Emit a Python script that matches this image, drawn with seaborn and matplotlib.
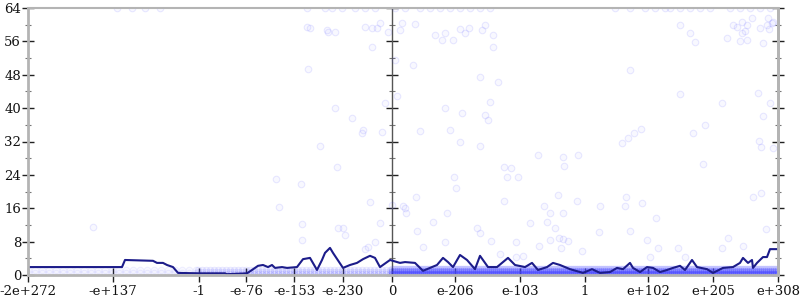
import numpy as np
import pandas as pd
import matplotlib
matplotlib.use("Agg")
import matplotlib.pyplot as plt
from matplotlib.ticker import MultipleLocator
import seaborn as sns

# ---- data -------------------------------------------------------------
tick_pos = [0, 85, 171, 218, 266, 315, 364, 427, 492, 557, 620, 685, 750]
tick_labels = ["-2e+272", "-e+137", "-1", "-e-76", "-e-153", "-e-230", "0",
               "e-206", "e-103", "1", "e+102", "e+205", "e+308"]

# moving average line
line_x = [0, 94, 97, 125, 129, 135, 139, 145, 150, 172, 197, 199, 219, 224, 230,
          235, 240, 244, 247, 254, 259, 269, 275, 282, 289, 294, 297, 302, 305,
          315, 322, 329, 335, 342, 347, 352, 362, 372, 377, 387, 395, 404, 409,
          415, 420, 425, 432, 439, 447, 452, 460, 469, 480, 487, 497, 504, 510,
          519, 525, 532, 542, 555, 564, 572, 582, 589, 595, 602, 605, 612, 619,
          625, 632, 639, 645, 652, 657, 664, 669, 679, 685, 695, 705, 712, 715,
          720, 724, 725, 729, 735, 739, 742, 750]
line_y = [1.9, 1.9, 3.6, 3.4, 2.9, 2.9, 2.4, 1.9, 0.5, 0.4, 0.4, 0.2, 0.4, 1.2, 2.2,
          2.4, 1.9, 2.4, 1.7, 1.9, 1.7, 1.9, 3.8, 4.1, 1.2, 3.6, 5.3, 6.5, 5.3,
          1.7, 2.4, 2.9, 3.8, 4.6, 4.1, 1.9, 3.6, 2.9, 3.1, 2.9, 1.0, 1.9, 2.4,
          4.1, 3.1, 1.9, 4.8, 3.6, 1.4, 4.6, 1.9, 1.9, 4.1, 2.4, 1.9, 2.9, 1.2,
          1.9, 2.9, 2.4, 1.4, 0.5, 1.4, 0.5, 0.7, 1.7, 1.4, 2.9, 1.7, 0.7, 1.9,
          1.7, 0.7, 1.2, 1.7, 2.2, 1.2, 3.6, 1.9, 1.4, 0.5, 1.7, 1.9, 2.9, 4.1,
          2.9, 3.6, 1.7, 2.9, 4.3, 4.3, 6.2, 6.2]

# individual samples (outliers)
top_x = [89, 104, 117, 132, 279, 297, 304, 314, 327, 337, 347, 367, 377, 392, 402,
         412, 422, 432, 442, 452, 462, 587, 602, 617, 627, 637, 642, 652, 662,
         672, 682, 702, 712, 722, 732, 742]
out_x = [279, 282, 299, 300, 307, 337, 344, 349, 352, 360, 372, 374, 387, 407, 414,
         417, 425, 432, 437, 441, 454, 457, 465, 465, 344, 280, 367, 385, 452, 470,
         369, 357, 307, 324, 417, 434, 457, 462, 460, 335, 334, 354, 392, 422, 292,
         432, 452,
         652, 662, 667, 699, 705, 709, 714, 719, 724, 717, 714, 712, 719, 732, 735,
         739, 740, 741, 744, 745, 602, 652, 694, 730, 742, 735, 677, 665, 613, 606,
         600, 594, 731, 733, 745,
         65, 248, 273, 251, 309, 274, 274, 310, 315, 317, 342, 352, 347, 340, 337, 364,
         375, 377, 378, 388, 405, 389, 395, 419, 426, 428, 417, 449, 452, 463, 472,
         476, 476, 483, 479, 490, 488, 488, 495, 502, 510, 511, 516, 522, 519, 527,
         535, 530, 535, 536, 549, 550, 522, 531, 535, 540, 533, 554, 571,
         675, 572, 598, 614, 597, 628, 602, 619, 630, 622, 650, 657, 700, 694, 715,
         725, 733, 738]
out_y = [59.5, 59.2, 58.8, 58.3, 58.3, 59.5, 59.2, 59.2, 60.4, 58.3, 58.8, 60.4, 60.2,
         57.6, 56.4, 58.0, 56.4, 59.0, 58.0, 59.2, 58.8, 60.0, 57.6, 54.7, 54.7, 49.4,
         51.6, 50.4, 47.5, 46.3, 42.9, 41.2, 40.0, 37.6, 40.0, 38.8, 38.4, 41.5, 37.2,
         34.8, 34.1, 34.3, 34.5, 34.8, 30.9, 31.9, 30.9,
         60.0, 58.0, 55.9, 56.8, 60.0, 59.5, 60.7, 60.0, 61.6, 58.5, 58.0, 56.1, 56.4,
         59.2, 55.6, 60.0, 61.6, 59.0, 60.4, 60.7, 49.2, 43.4, 41.2, 43.6, 41.2, 38.1,
         36.0, 34.1, 35.0, 34.1, 32.9, 31.7, 32.1, 30.7, 30.5,
         11.5, 23.0, 21.8, 16.3, 25.9, 12.2, 8.4, 11.3, 11.3, 9.6, 17.5, 12.5, 7.9, 6.7,
         6.2, 16.8,
         16.5, 16.1, 14.9, 18.7, 12.7, 10.6, 6.7, 14.9, 23.5, 20.9, 7.9, 11.3, 10.1, 8.2,
         5.0, 17.7, 25.9, 25.7, 23.5, 23.5, 7.9, 4.3, 4.6, 12.5, 28.8, 7.0, 16.5, 14.9,
         12.7, 11.3, 14.9, 19.2, 28.3, 26.1, 17.7, 28.8, 8.4, 8.9, 8.6, 8.2, 6.5, 5.8,
         10.3,
         26.6, 16.5, 18.7, 17.3, 16.5, 13.7, 10.6, 8.4, 6.5, 4.3, 6.5, 4.3, 8.9, 6.5,
         7.0, 18.7, 19.7, 11.0]
top_value = 64.0

# dense low band of samples (levels)
band_left_levels = [0.4, 1.2]
band_mid_levels = [0.2, 0.7, 1.3]
band_right_levels = [0.1, 0.2, 0.3, 0.6, 1.0, 1.4]

# ---- figure -----------------------------------------------------------
sns.set_theme(style="white")
plt.rcParams["font.family"] = ["DejaVu Serif"]

fig = plt.figure(figsize=(8, 3), dpi=100)
ax = fig.add_axes([28 / 800, 25 / 300, 750 / 800, 267 / 300])

pts = pd.DataFrame({"x": out_x, "y": out_y})
tops = pd.DataFrame({"x": top_x, "y": [top_value] * len(top_x)})


def band_frame(xs, levels):
    return pd.DataFrame({"x": np.repeat(xs, len(levels)),
                         "y": np.tile(levels, len(xs))})


band_l = band_frame(np.arange(0, 170, 7), band_left_levels)
band_m = band_frame(np.arange(170, 364, 4), band_mid_levels)
band_r = band_frame(np.arange(364, 751, 2), band_right_levels)

blue = (0.3, 0.3, 1.0)


def faint(coll, fa, ea):
    coll.set_facecolor((*blue, fa))
    coll.set_edgecolor((*blue, ea))


for df, fa, ea in [(band_l, 0.03, 0.08), (band_m, 0.04, 0.10),
                   (band_r, 0.06, 0.14), (pts, 0.035, 0.12),
                   (tops, 0.035, 0.12)]:
    n_before = len(ax.collections)
    sns.scatterplot(data=df, x="x", y="y", ax=ax, s=22, color=blue,
                    linewidth=0.8, legend=False)
    faint(ax.collections[n_before], fa, ea)

line_df = pd.DataFrame({"x": line_x, "y": line_y})
sns.lineplot(data=line_df, x="x", y="y", ax=ax, color="#1c1c8a", linewidth=1.5)

ax.set_xlim(0, 750)
ax.set_ylim(0, 64)
ax.set_xlabel("")
ax.set_ylabel("")

ax.set_xticks(tick_pos)
ax.set_xticklabels(tick_labels)
ax.yaxis.set_major_locator(MultipleLocator(8))
ax.yaxis.set_minor_locator(MultipleLocator(4))

for side in ["left", "bottom", "right"]:
    ax.spines[side].set_color("#b4b4b4")
    ax.spines[side].set_linewidth(2)
ax.spines["top"].set_color("#b4b4b4")
ax.spines["top"].set_linewidth(1.5)

ax.tick_params(axis="x", which="major", direction="inout", length=10, width=1,
               color="#222222", labelsize=9.5, pad=2, bottom=True)
ax.tick_params(axis="y", which="major", direction="inout", length=8, width=1,
               color="#222222", labelsize=9.5, pad=1, left=True)
ax.tick_params(axis="y", which="minor", direction="inout", length=5, width=0.8,
               color="#777777", left=True)

# right and centre axes with ticks, no labels
for loc, col, lw in [("right", "#b4b4b4", 2), (364 / 750, "#555555", 1)]:
    sec = ax.secondary_yaxis(loc)
    sec.yaxis.set_major_locator(MultipleLocator(8))
    sec.yaxis.set_minor_locator(MultipleLocator(4))
    sec.tick_params(which="major", direction="inout", length=8, width=1,
                    color="#222222", labelright=False, labelleft=False)
    sec.tick_params(which="minor", direction="inout", length=5, width=0.8,
                    color="#777777")
    for s in sec.spines.values():
        s.set_color(col)
        s.set_linewidth(lw)

for lab in ax.get_xticklabels() + ax.get_yticklabels():
    lab.set_color("#111111")

fig.savefig("out.png", dpi=100)
